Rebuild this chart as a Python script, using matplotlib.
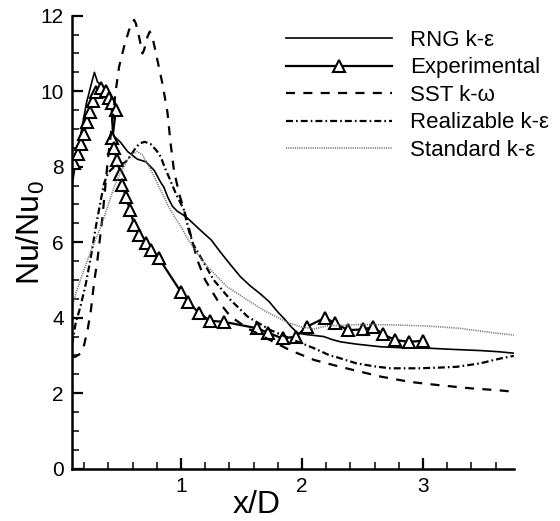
import matplotlib
matplotlib.use("Agg")
from matplotlib import pyplot as plt
from matplotlib.ticker import MultipleLocator

plt.rcParams['font.family'] = ['Liberation Sans', 'DejaVu Sans']
plt.rcParams['mathtext.default'] = 'regular'
plt.rcParams['lines.scale_dashes'] = False

# RNG k-eps
rng_x = [0.10, 0.14, 0.18, 0.22, 0.26, 0.285, 0.31, 0.34, 0.37, 0.40, 0.425, 0.435,
         0.45, 0.50, 0.56, 0.60, 0.64, 0.71, 0.78, 0.83, 0.86, 0.89, 0.93, 0.97,
         1.02, 1.06, 1.10, 1.16, 1.25, 1.33, 1.41, 1.49, 1.57, 1.66, 1.73, 1.80,
         1.86, 1.91, 1.96, 2.02, 2.10, 2.18, 2.25, 2.32, 2.45, 2.65, 2.85, 3.06,
         3.25, 3.47, 3.62, 3.75]
rng_y = [7.5, 8.3, 9.0, 9.7, 10.2, 10.5, 10.25, 10.15, 10.1, 9.9, 9.6, 8.9,
         8.8, 8.65, 8.4, 8.3, 8.2, 8.13, 7.9, 7.6, 7.45, 7.2, 6.95, 6.82,
         6.72, 6.62, 6.5, 6.32, 6.06, 5.72, 5.40, 5.09, 4.85, 4.62, 4.42, 4.15,
         3.95, 3.76, 3.60, 3.56, 3.53, 3.50, 3.42, 3.36, 3.30, 3.23, 3.20, 3.19,
         3.16, 3.13, 3.10, 3.06]

# experimental
exp_x = [0.12, 0.15, 0.175, 0.20, 0.225, 0.245, 0.27, 0.30, 0.34, 0.38, 0.405, 0.434,
         0.462, 0.434, 0.448, 0.47, 0.50, 0.517, 0.544, 0.58, 0.613, 0.654, 0.709, 0.75,
         0.819, 1.0, 1.06, 1.15, 1.24, 1.355, 1.63, 1.72, 1.84, 1.95, 2.04, 2.19,
         2.275, 2.38, 2.50, 2.59, 2.67, 2.77, 2.885, 3.0]
exp_y = [8.10, 8.35, 8.60, 8.88, 9.19, 9.45, 9.75, 9.99, 10.08, 10.00, 9.81, 9.68,
         9.50, 8.75, 8.50, 8.18, 7.82, 7.52, 7.20, 6.85, 6.46, 6.19, 5.97, 5.79,
         5.57, 4.68, 4.42, 4.12, 3.92, 3.89, 3.72, 3.60, 3.45, 3.50, 3.76, 4.00,
         3.85, 3.67, 3.69, 3.75, 3.56, 3.41, 3.36, 3.39]

# SST k-omega
sst_x = [0.10, 0.13, 0.17, 0.20, 0.23, 0.256, 0.283, 0.31, 0.352, 0.38, 0.393, 0.434,
         0.462, 0.489, 0.53, 0.571, 0.60, 0.613, 0.627, 0.654, 0.682, 0.695, 0.723, 0.742,
         0.764, 0.805, 0.847, 0.888, 0.915, 0.942, 0.984, 1.04, 1.08, 1.135, 1.20, 1.30,
         1.41, 1.55, 1.71, 1.90, 2.10, 2.29, 2.43, 2.65, 2.89, 3.11, 3.39, 3.61, 3.75]
sst_y = [2.95, 2.97, 3.05, 3.28, 3.70, 4.20, 4.95, 5.53, 6.68, 7.65, 8.09, 9.24,
         10.03, 10.65, 11.18, 11.62, 11.84, 11.89, 11.80, 11.44, 11.00, 11.09, 11.44, 11.58,
         11.44, 10.83, 10.20, 9.45, 8.60, 7.90, 7.30, 6.68, 6.20, 5.53, 5.00, 4.47,
         4.03, 3.72, 3.45, 3.14, 2.88, 2.72, 2.61, 2.44, 2.30, 2.22, 2.13, 2.08, 2.04]

# Realizable k-eps
rea_x = [0.10, 0.13, 0.17, 0.215, 0.256, 0.297, 0.338, 0.365, 0.40, 0.45, 0.50, 0.544,
         0.585, 0.626, 0.66, 0.70, 0.75, 0.80, 0.833, 0.87, 0.90, 0.956, 1.025, 1.066,
         1.10, 1.16, 1.27, 1.41, 1.55, 1.74, 1.93, 2.10, 2.23, 2.29, 2.45, 2.60,
         2.73, 2.97, 3.15, 3.28, 3.47, 3.64, 3.75]
rea_y = [3.30, 3.85, 4.30, 4.91, 5.62, 6.41, 7.12, 7.56, 7.85, 8.00, 8.05, 8.13,
         8.30, 8.50, 8.62, 8.66, 8.60, 8.42, 8.26, 7.95, 7.73, 7.30, 6.85, 6.30,
         5.95, 5.62, 5.00, 4.47, 4.03, 3.67, 3.41, 3.19, 3.00, 2.95, 2.79, 2.71,
         2.66, 2.66, 2.68, 2.70, 2.79, 2.92, 2.99]

# Standard k-eps
std_x = [0.10, 0.132, 0.18, 0.228, 0.28, 0.338, 0.39, 0.448, 0.50, 0.558, 0.60, 0.64,
         0.682, 0.72, 0.77, 0.82, 0.86, 0.888, 0.942, 1.0, 1.053, 1.08, 1.135, 1.22,
         1.38, 1.55, 1.657, 1.71, 1.877, 1.99, 2.10, 2.20, 2.48, 2.75, 3.03, 3.30,
         3.58, 3.75]
std_y = [4.25, 4.65, 5.10, 5.53, 5.95, 6.41, 6.90, 7.47, 7.85, 8.18, 8.35, 8.40,
         8.31, 8.10, 7.80, 7.45, 7.20, 7.00, 6.70, 6.41, 6.10, 5.97, 5.70, 5.35,
         4.82, 4.47, 4.25, 4.15, 3.88, 3.76, 3.70, 3.78, 3.82, 3.81, 3.78, 3.72,
         3.60, 3.54]

fig = plt.figure(figsize=(5.6, 5.21), dpi=100)
ax = fig.add_axes([0.1286, 0.1004, 0.789, 0.8694])

ax.plot(rng_x, rng_y, color='black', lw=1.2, label='RNG k-\u03b5')
ax.plot(exp_x, exp_y, color='black', lw=1.6, marker='^', markersize=9,
        markerfacecolor='white', markeredgecolor='black', markeredgewidth=1.5,
        label='Experimental')
ax.plot(sst_x, sst_y, color='black', lw=1.6, dashes=(6.5, 6), label='SST k-\u03c9')
ax.plot(rea_x, rea_y, color='black', lw=1.6, dashes=(5, 2.2, 1.2, 2.2),
        label='Realizable k-\u03b5')
ax.plot(std_x, std_y, color='#777777', lw=1.2, dashes=(0.8, 0.8),
        label='Standard k-\u03b5')

ax.set_xlim(0.1, 3.75)
ax.set_ylim(0, 12)
ax.xaxis.set_major_locator(MultipleLocator(1))
ax.xaxis.set_minor_locator(MultipleLocator(0.2))
ax.yaxis.set_major_locator(MultipleLocator(2))
ax.yaxis.set_minor_locator(MultipleLocator(0.5))

for s in ['top', 'right']:
    ax.spines[s].set_visible(False)
for s in ['left', 'bottom']:
    ax.spines[s].set_linewidth(1.8)

ax.tick_params(which='major', direction='in', length=8, width=1.6, labelsize=15, pad=6)
ax.tick_params(which='minor', direction='in', length=5, width=1.1)

ax.set_xlabel('x/D', fontsize=23, va='top')
ax.set_ylabel('Nu/Nu$_0$', fontsize=23)
ax.xaxis.set_label_coords(0.417, -0.047)
ax.yaxis.set_label_coords(-0.057, 0.52)

leg = ax.legend(loc='upper left', bbox_to_anchor=(286 / 560, 1 - 30 / 521),
                bbox_transform=fig.transFigure, frameon=False, fontsize=16,
                handlelength=4.75, handletextpad=0.85, labelspacing=0.29,
                borderpad=0, borderaxespad=0, numpoints=1)

fig.savefig('out.png', dpi=100)
